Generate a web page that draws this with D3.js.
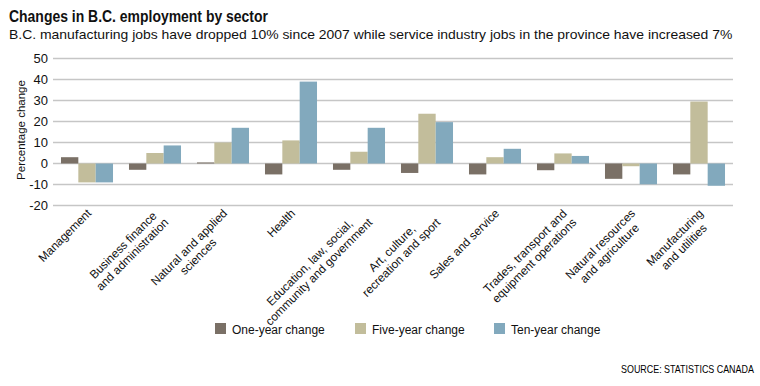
<!DOCTYPE html>
<html>
<head>
<meta charset="utf-8">
<script src="https://cdn.jsdelivr.net/npm/d3@7"></script>
<style>
  body { margin: 0; background: #fff; }
  svg { display: block; font-family: "Liberation Sans", Arial, sans-serif; }
</style>
</head>
<body>
<div id="chart"></div>
<script>
// sector names (line breaks as drawn in the chart)
var sectors = [
    "Management",
    "Business finance\nand administration",
    "Natural and applied\nsciences",
    "Health",
    "Education, law, social,\ncommunity and government",
    "Art, culture,\nrecreation and sport",
    "Sales and service",
    "Trades, transport and\nequipment operations",
    "Natural resources\nand agriculture",
    "Manufacturing\nand utilities"
];

// percentage change per sector
var oneYear = [3, -3, 0.5, -5.2, -3, -4.5, -5.2, -3.2, -7.3, -5.2];
var fiveYear = [-9, 5, 10, 11, 5.6, 23.7, 3, 4.8, -1.3, 29.5];
var tenYear = [-9, 8.6, 17, 39, 17, 19.7, 7, 3.6, -9.9, -10.6];

var seriesNames = ["One-year change", "Five-year change", "Ten-year change"];
var yTicks = [-20, -10, 0, 10, 20, 30, 40, 50];

var seriesColors = ["#7a7066", "#c2bd9b", "#82a9bd"];
var seriesValues = [oneYear, fiveYear, tenYear];

var width = 760, height = 386;

var svg = d3.select("#chart").append("svg")
    .attr("width", width)
    .attr("height", height);

// squeeze a text horizontally so it spans the given width
function fitWidth(sel, x0, y0, w) {
    var natural = sel.node().getComputedTextLength();
    sel.attr("transform", "translate(" + x0 + "," + y0 + ") scale(" + (w / natural) + ",1)");
}

// title and subtitle
var title = svg.append("text")
    .attr("font-weight", "bold")
    .attr("font-size", 17)
    .attr("fill", "#111")
    .text("Changes in B.C. employment by sector");
fitWidth(title, 9, 21.5, 259);

var subtitle = svg.append("text")
    .attr("font-size", 13)
    .attr("fill", "#111")
    .text("B.C. manufacturing jobs have dropped 10% since 2007 while service industry jobs in the province have increased 7%");
fitWidth(subtitle, 9, 39, 724);

// scales
var x = d3.scaleBand()
    .domain(sectors)
    .range([53, 733])
    .paddingInner(0.235)
    .paddingOuter(0.1175);

var x1 = d3.scaleBand()
    .domain(seriesNames)
    .range([0, x.bandwidth()]);

var y = d3.scaleLinear()
    .domain([-20, 50])
    .range([205.5, 58.5]);

// gridlines
svg.append("g")
    .selectAll("line")
    .data(yTicks)
    .enter().append("line")
    .attr("x1", 53).attr("x2", 733)
    .attr("y1", function(d) { return y(d); })
    .attr("y2", function(d) { return y(d); })
    .attr("stroke", "#c6c6c6")
    .attr("stroke-width", 1.5);

// y tick labels
svg.append("g")
    .selectAll("text")
    .data(yTicks)
    .enter().append("text")
    .attr("x", 48)
    .attr("y", function(d) { return y(d) + 4.5; })
    .attr("text-anchor", "end")
    .attr("font-size", 13)
    .attr("fill", "#111")
    .text(function(d) { return d; });

svg.append("text")
    .attr("transform", "translate(25,130) rotate(-90)")
    .attr("text-anchor", "middle")
    .attr("font-size", 11.5)
    .attr("fill", "#111")
    .text("Percentage change");

// bars
var groups = svg.append("g")
    .selectAll("g")
    .data(sectors)
    .enter().append("g")
    .attr("transform", function(d) { return "translate(" + x(d) + ",0)"; });

groups.selectAll("rect")
    .data(function(d, i) {
        return seriesNames.map(function(s, k) {
            return { series: s, value: seriesValues[k][i], color: seriesColors[k] };
        });
    })
    .enter().append("rect")
    .attr("x", function(d) { return x1(d.series); })
    .attr("width", x1.bandwidth())
    .attr("y", function(d) { return y(Math.max(0, d.value)); })
    .attr("height", function(d) { return Math.abs(y(d.value) - y(0)); })
    .attr("fill", function(d) { return d.color; });

// rotated category labels, lines centred, block right edge at anchor
var lineHeight = 13;
sectors.forEach(function(name) {
    var lines = name.split("\n");
    var cx = x(name) + x.bandwidth() / 2 + 5;
    var g = svg.append("g")
        .attr("transform", "translate(" + cx + ",214) rotate(-45)");
    var texts = g.selectAll("text")
        .data(lines)
        .enter().append("text")
        .attr("y", function(d, i) { return i * lineHeight; })
        .attr("font-size", 11.8)
        .attr("fill", "#111")
        .attr("text-anchor", "middle")
        .text(function(d) { return d; });
    var maxW = 0;
    texts.each(function() { maxW = Math.max(maxW, this.getComputedTextLength()); });
    texts.attr("x", -maxW / 2);
});

// legend
var legendX = [215, 355, 494];
var legend = svg.append("g")
    .selectAll("g")
    .data(seriesNames)
    .enter().append("g")
    .attr("transform", function(d, i) { return "translate(" + legendX[i] + ",323)"; });

legend.append("rect")
    .attr("width", 11).attr("height", 11)
    .attr("fill", function(d, i) { return seriesColors[i]; });

legend.append("text")
    .attr("x", 17).attr("y", 10.5)
    .attr("font-size", 12)
    .attr("fill", "#111")
    .text(function(d) { return d; });

// source
var source = svg.append("text")
    .attr("font-size", 11.2)
    .attr("fill", "#000")
    .text("SOURCE: STATISTICS CANADA");
fitWidth(source, 621, 373, 133);
</script>
</body>
</html>
